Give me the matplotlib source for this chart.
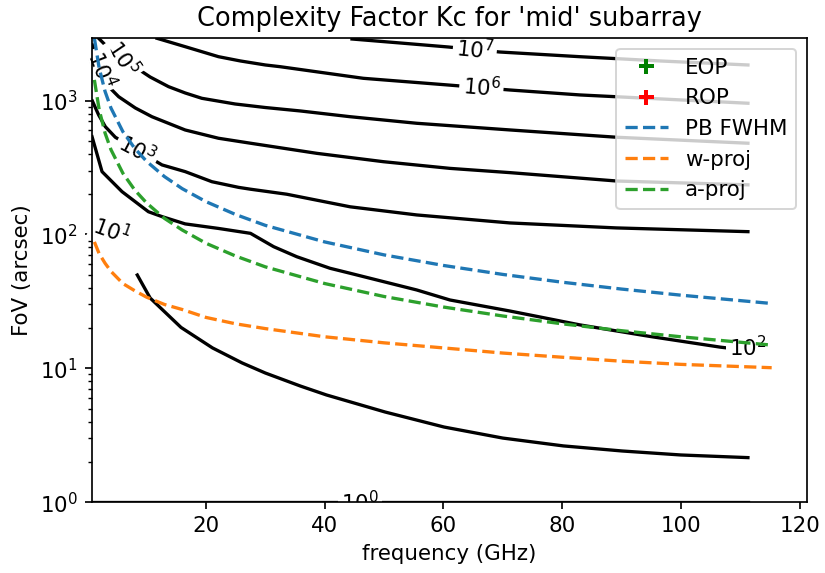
"""Complexity factor Kc for the 'mid' subarray: contour levels + FoV curves."""
import matplotlib; matplotlib.use("Agg")
import matplotlib.pyplot as plt

DPI = 144
plt.rcParams.update({"font.family": "DejaVu Sans", "font.size": 10.7, "figure.facecolor": "white",
                     "axes.linewidth": 0.85, "xtick.major.width": 0.85, "ytick.major.width": 0.85,
                     "ytick.minor.width": 0.7})

# ---- contour levels of Kc (freq GHz, FoV arcsec) ----
c7_f = [44.6, 52.7, 60.8, 69.5, 83.0, 96.5, 111.3]
c7_v = [2891, 2700, 2520, 2311, 2132, 1981, 1849]
c6_f = [11.75, 16.5, 22.1, 25.8, 30.0, 32.5, 46.5, 60.8, 71.2, 83.0, 111.3]
c6_v = [2926, 2533, 2133, 1981, 1849, 1795, 1470, 1310, 1202, 1104, 957]
c5_f = [1.92, 4.44, 7.54, 10.6, 13.7, 16.5, 19.3, 24.9, 30.0, 35.9, 44.3, 55.5, 71.3, 89.2, 111.3]
c5_v = [2926, 2261, 1849, 1503, 1273, 1142, 1042, 945, 889, 838, 759, 678, 604, 533, 481]
c4_f = [0.86, 3.33, 5.29, 8.1, 10.9, 16.5, 22.1, 27.5, 38.7, 49.9, 61.1, 71.2, 89.2, 111.3]
c4_v = [2608, 1310, 1071, 882, 759, 604, 524, 481, 404, 350, 312, 290, 251, 235]
c3_f = [0.86, 1.92, 3.05, 4.73, 12.6, 16.5, 21.0, 25.5, 27.5, 33.6, 44.3, 55.5, 71.2, 89.1, 111.3]
c3_v = [995, 782, 639, 533, 331, 295, 248, 225, 218, 200, 161, 140, 122, 112, 105]
c2_f = [0.81, 2.49, 5.86, 10.3, 12.6, 16.5, 22.1, 27.5, 31.4, 35.3, 40.9, 44.3, 55.5, 61.1,
        71.2, 83.0, 94.8, 106.6, 111.3]
c2_v = [538, 295, 209, 148, 136, 120, 111, 102, 81.1, 68.2, 55.9, 51.3, 38.5, 32.4,
        26.8, 21.1, 17.3, 14.4, 13.6]
c1_f = [8.43, 10.6, 15.8, 21.1, 26.1, 30.0, 35.9, 40.3, 50.2, 60.1, 70.0, 80.2, 90.1, 100.0, 111.3]
c1_v = [49.8, 33.5, 20.2, 14.2, 10.96, 9.22, 7.37, 6.32, 4.71, 3.64, 3.01, 2.63, 2.41, 2.25, 2.15]
c0_f = [0.86, 111.3]
c0_v = [1.0, 1.0]

# label: (exponent, freq, fov, rotation)
labels = [(7, 65.3, 2420, -6), (6, 66.4, 1255, -5), (5, 6.0, 2080, -56), (4, 2.37, 1700, -69),
          (3, 8.4, 426, -28), (2, 111.3, 14.2, 0), (1, 4.06, 106, -20), (0, 46.0, 1.0, 0)]

# ---- FoV curves ----
dash_f = [1.2, 2, 3, 4, 6, 8, 10, 13, 16, 20, 25, 30, 40, 50, 60, 70, 80, 90, 100, 115.3]
pb_fwhm = [2930, 1760, 1173, 880, 587, 440, 352, 271, 220, 176, 141, 117, 88, 70.4, 58.7,
           50.3, 44.0, 39.1, 35.2, 30.5]
w_proj = [88, 72, 61, 53, 43, 38, 34, 30, 27.5, 24, 21.5, 19.8, 17.2, 15.5, 14.2,
          13.0, 12.1, 11.3, 10.7, 10.1]
a_proj = [1430, 860, 573, 430, 287, 215, 172, 132, 108, 86, 69, 57.3, 43, 34.4, 28.7,
          24.6, 21.5, 19.1, 17.2, 14.9]

fig = plt.figure(figsize=(825 / DPI, 573 / DPI), dpi=DPI)
ax = fig.add_axes([92 / 825, 1 - 502.1 / 573, 714.7 / 825, 463.8 / 573])
ax.set_yscale("log")

for cf, cv in [(c7_f, c7_v), (c6_f, c6_v), (c5_f, c5_v), (c4_f, c4_v), (c3_f, c3_v),
               (c2_f, c2_v), (c1_f, c1_v), (c0_f, c0_v)]:
    ax.plot(cf, cv, color="black", lw=1.65, zorder=2)
for e, lf, lv, rot in labels:
    ax.text(lf, lv, rf"$\mathdefault{{10^{{{e}}}}}$", ha="center", va="center", rotation=rot,
            rotation_mode="anchor", fontsize=10.7, zorder=2.2, clip_on=(e == 0),
            bbox=dict(boxstyle="square,pad=0.15", fc="white", ec="none"))

ax.plot([], [], "+", color="green", ms=7.5, mew=2, label="EOP")
ax.plot([], [], "+", color="red", ms=7.5, mew=2, label="ROP")
ax.plot(dash_f, pb_fwhm, "--", color="tab:blue", lw=1.65, zorder=2.3, label="PB FWHM")
ax.plot(dash_f, w_proj, "--", color="tab:orange", lw=1.65, zorder=2.3, label="w-proj")
ax.plot(dash_f, a_proj, "--", color="tab:green", lw=1.65, zorder=2.3, label="a-proj")

ax.set_xlim(0.8, 121.2); ax.set_ylim(1, 2926)
ax.set_xlabel("frequency (GHz)"); ax.set_ylabel("FoV (arcsec)")
ax.set_title("Complexity Factor Kc for 'mid' subarray")
ax.legend(loc="upper right")
fig.savefig("out.png", dpi=DPI, facecolor="white")
